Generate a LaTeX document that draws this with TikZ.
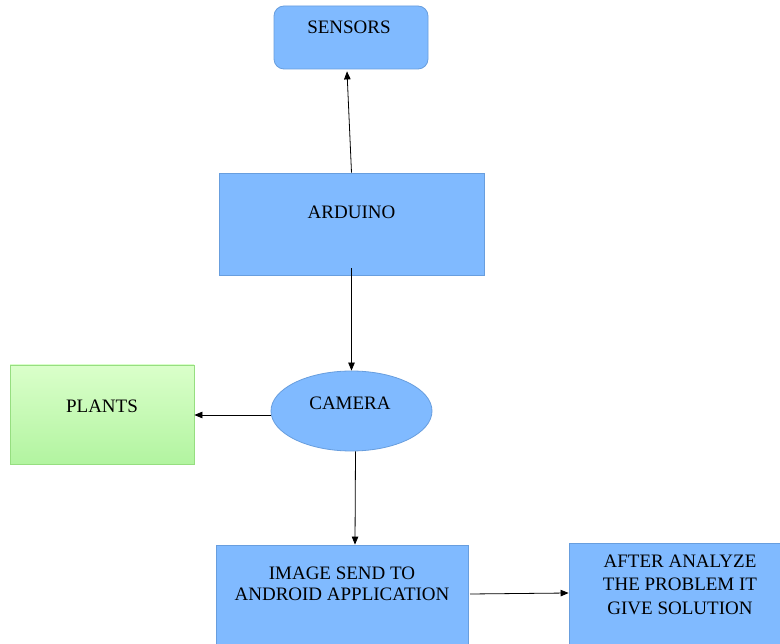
\documentclass[tikz,border=0pt]{standalone}
\usepackage{fontspec}
\setmainfont{Liberation Serif}
\newfontfamily\tnrfont{Liberation Serif}
\usetikzlibrary{arrows.meta,shapes.geometric}
\definecolor{boxblue}{RGB}{128,186,255}
\definecolor{boxedge}{RGB}{104,158,222}
\definecolor{greentop}{RGB}{218,255,202}
\definecolor{greenbot}{RGB}{178,244,160}
\definecolor{greenedge}{RGB}{150,222,128}
\tikzset{
  bluebox/.style={draw=boxedge, fill=boxblue, line width=0.8pt, inner sep=0pt},
  greenbox/.style={draw=greenedge, top color=greentop, bottom color=greenbot, line width=0.8pt, inner sep=0pt},
  lbl/.style={font=\tnrfont\fontsize{19}{21}\selectfont, text=black, inner sep=0pt, align=center},
  conn/.style={draw=black, line width=0.8pt, -{Triangle[length=8pt,width=6.5pt]}}
}
\begin{document}
\begin{tikzpicture}[x=1pt,y=-1pt]
\clip (0,0) rectangle (780,644);
\fill[white] (0,0) rectangle (780,644);
% shapes
\node[bluebox, rounded corners=10pt, minimum width=154pt, minimum height=63pt] (sensors) at (351,37.5) {};
\node[bluebox, minimum width=265pt, minimum height=102pt] (arduino) at (351.5,224) {};
\node[bluebox, ellipse, minimum width=161pt, minimum height=80pt] (camera) at (351.5,411) {};
\node[greenbox, minimum width=184pt, minimum height=99pt] (plants) at (102,414.5) {};
\node[bluebox, minimum width=252pt, minimum height=120pt] (image) at (342,605) {};
\node[bluebox, minimum width=230pt, minimum height=120pt] (after) at (684,603) {};
% labels
\node[lbl] (tsensors) at (349,27.5) {SENSORS};
\node[lbl] (tarduino) at (351.5,212.5) {ARDUINO};
\node[lbl] (tcamera) at (350,403.5) {CAMERA};
\node[lbl] (tplants) at (102,406.5) {PLANTS};
\node[lbl] (timage) at (342,584) {IMAGE SEND TO\\ANDROID APPLICATION};
\node[lbl, font=\tnrfont\fontsize{19}{23.5}\selectfont] (tafter) at (680,584.5) {AFTER ANALYZE\\THE PROBLEM IT\\GIVE SOLUTION};
% connectors
\coordinate (camw) at ([yshift=-4pt]camera.west);
\coordinate (imgr) at (470,594);
\draw[conn] (arduino.north) -- ([xshift=-4pt,yshift=-2pt]sensors.south);
\draw[conn] ([yshift=7pt]arduino.south) -- (camera.north);
\draw[conn] (camw) -- (camw -| plants.east);
\draw[conn] ([xshift=4pt]camera.south) -- ([xshift=13pt]image.north);
\draw[conn] (imgr) -- ([yshift=10pt]after.west);
\end{tikzpicture}
\end{document}
